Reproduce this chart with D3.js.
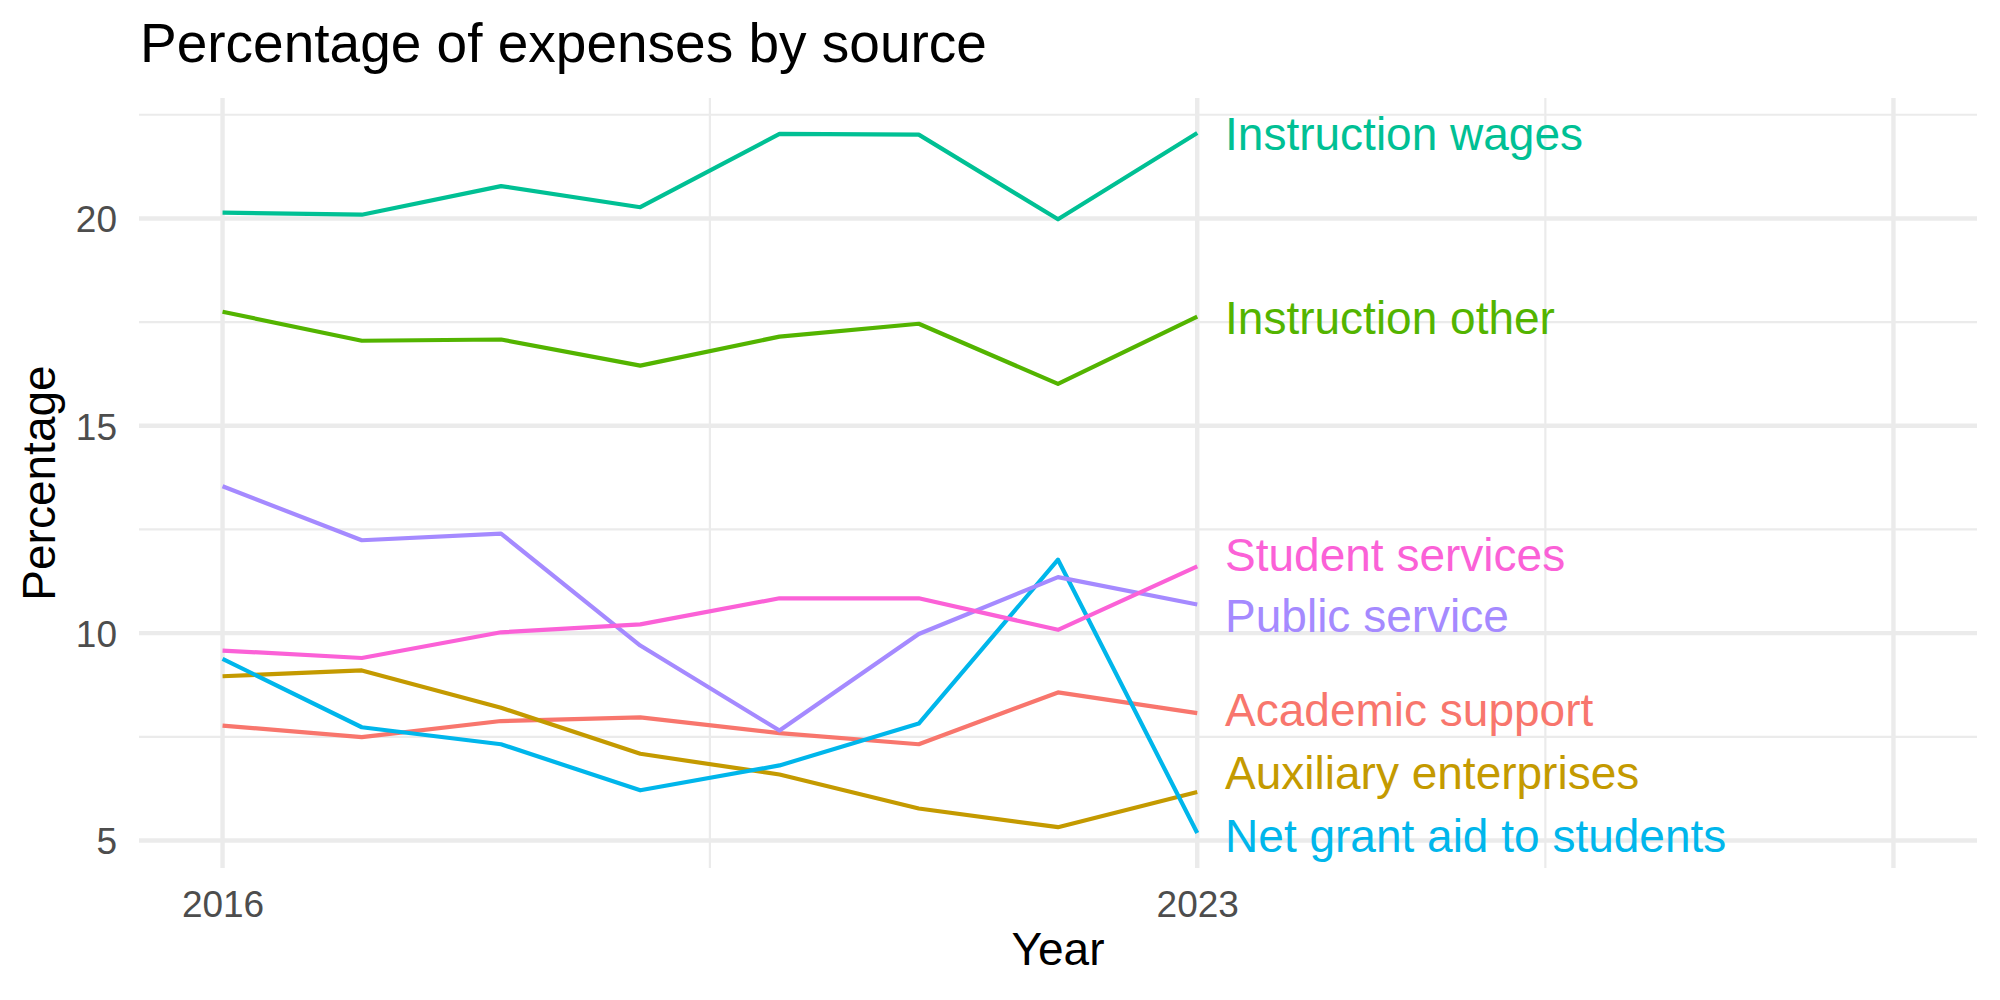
<!DOCTYPE html>
<html>
<head>
<meta charset="utf-8">
<script src="https://cdn.jsdelivr.net/npm/d3@7"></script>
<style>
  body { margin: 0; background: #fff; }
  text { font-family: "Liberation Sans", Arial, sans-serif; }
</style>
</head>
<body>
<div id="chart"></div>
<script>
// values
const years = [2016, 2017, 2018, 2019, 2020, 2021, 2022, 2023];

const academicSupport      = [7.77, 7.49, 7.88, 7.97, 7.59, 7.32, 8.57, 8.07];
const auxiliaryEnterprises = [8.96, 9.10, 8.20, 7.09, 6.59, 5.77, 5.32, 6.17];
const instructionOther     = [17.75, 17.05, 17.08, 16.45, 17.15, 17.46, 16.01, 17.63];
const instructionWages     = [20.14, 20.09, 20.78, 20.27, 22.04, 22.02, 19.98, 22.06];
const netGrantAid          = [9.38, 7.73, 7.32, 6.21, 6.81, 7.82, 11.77, 5.18];
const publicService        = [13.54, 12.24, 12.40, 9.70, 7.65, 9.98, 11.35, 10.69];
const studentServices      = [9.58, 9.40, 10.02, 10.21, 10.84, 10.84, 10.08, 11.61];

const categories = [
  "Academic support", "Auxiliary enterprises", "Instruction other",
  "Instruction wages", "Net grant aid to students", "Public service", "Student services"
];
const colors = ["#F8766D", "#C49A00", "#53B400", "#00C094", "#00B6EB", "#A58AFF", "#FB61D7"];

// where the end labels sit after being pushed apart (percentage units)
const labelAt = [8.14, 6.62, 17.59, 22.03, 5.11, 10.40, 11.89];

const yBreaks = [5, 10, 15, 20];
const yMinor = [7.5, 12.5, 17.5, 22.5];
const xBreaks = [2016, 2023, 2028];
const xLabels = ["2016", "2023", ""];
const xMinor = [2019.5, 2025.5];
const xLimit = [2016, 2028];

const series = [academicSupport, auxiliaryEnterprises, instructionOther, instructionWages,
  netGrantAid, publicService, studentServices].map((vals, i) => ({
    name: categories[i],
    color: colors[i],
    label: labelAt[i],
    values: vals.map((v, j) => ({ year: years[j], value: v }))
  }));

const W = 2000, H = 1000;
const panel = { left: 139, right: 1977, top: 98, bottom: 868 };

const svg = d3.select("#chart").append("svg")
  .attr("width", W)
  .attr("height", H);

// ggplot style 5% expansion
const pad = (lo, hi) => { const d = (hi - lo) * 0.05; return [lo - d, hi + d]; };
const yExt = d3.extent(series.flatMap(s => s.values.map(d => d.value)));

const x = d3.scaleLinear().domain(pad(xLimit[0], xLimit[1])).range([panel.left, panel.right]);
const y = d3.scaleLinear().domain(pad(yExt[0], yExt[1])).range([panel.bottom, panel.top]);

const grid = svg.append("g");

grid.selectAll(".ymin").data(yMinor).enter().append("line")
  .attr("x1", panel.left).attr("x2", panel.right)
  .attr("y1", d => y(d)).attr("y2", d => y(d))
  .attr("stroke", "#EBEBEB").attr("stroke-width", 2.2);

grid.selectAll(".xmin").data(xMinor).enter().append("line")
  .attr("y1", panel.top).attr("y2", panel.bottom)
  .attr("x1", d => x(d)).attr("x2", d => x(d))
  .attr("stroke", "#EBEBEB").attr("stroke-width", 2.2);

grid.selectAll(".ymaj").data(yBreaks).enter().append("line")
  .attr("x1", panel.left).attr("x2", panel.right)
  .attr("y1", d => y(d)).attr("y2", d => y(d))
  .attr("stroke", "#EBEBEB").attr("stroke-width", 4.4);

grid.selectAll(".xmaj").data(xBreaks).enter().append("line")
  .attr("y1", panel.top).attr("y2", panel.bottom)
  .attr("x1", d => x(d)).attr("x2", d => x(d))
  .attr("stroke", "#EBEBEB").attr("stroke-width", 4.4);

// axes: no domain line, no ticks, only labels
const yAxis = d3.axisLeft(y).tickValues(yBreaks).tickSize(0).tickPadding(22);
const xAxis = d3.axisBottom(x).tickValues(xBreaks).tickFormat((d, i) => xLabels[i]).tickSize(0).tickPadding(22);

const gy = svg.append("g").attr("transform", `translate(${panel.left},0)`).call(yAxis);
const gx = svg.append("g").attr("transform", `translate(0,${panel.bottom})`).call(xAxis);
[gy, gx].forEach(g => {
  g.select(".domain").remove();
  g.selectAll("text")
    .attr("fill", "#4D4D4D")
    .style("font-size", "37px")
    .style("font-family", "'Liberation Sans', Arial, sans-serif");
});
gy.selectAll("text").attr("dy", "0.36em");
gx.selectAll("text").attr("dy", "0.72em");

// lines
const line = d3.line().x(d => x(d.year)).y(d => y(d.value));

svg.append("g").selectAll("path")
  .data(series)
  .enter()
  .append("path")
  .attr("d", d => line(d.values))
  .attr("fill", "none")
  .attr("stroke", d => d.color)
  .attr("stroke-width", 4.2)
  .attr("stroke-linejoin", "round");

// end labels
svg.append("g").selectAll("text")
  .data(series)
  .enter()
  .append("text")
  .attr("x", x(years[years.length - 1] + 0.2))
  .attr("y", d => y(d.label))
  .attr("dy", "0.345em")
  .attr("fill", d => d.color)
  .style("font-size", "46px")
  .text(d => d.name);

// titles
svg.append("text")
  .attr("x", 140)
  .attr("y", 62)
  .style("font-size", "55px")
  .attr("fill", "#000")
  .text("Percentage of expenses by source");

svg.append("text")
  .attr("x", (panel.left + panel.right) / 2)
  .attr("y", 965)
  .attr("text-anchor", "middle")
  .style("font-size", "46px")
  .attr("fill", "#000")
  .text("Year");

svg.append("text")
  .attr("transform", `translate(55,${(panel.top + panel.bottom) / 2}) rotate(-90)`)
  .attr("text-anchor", "middle")
  .style("font-size", "46px")
  .attr("fill", "#000")
  .text("Percentage");
</script>
</body>
</html>
